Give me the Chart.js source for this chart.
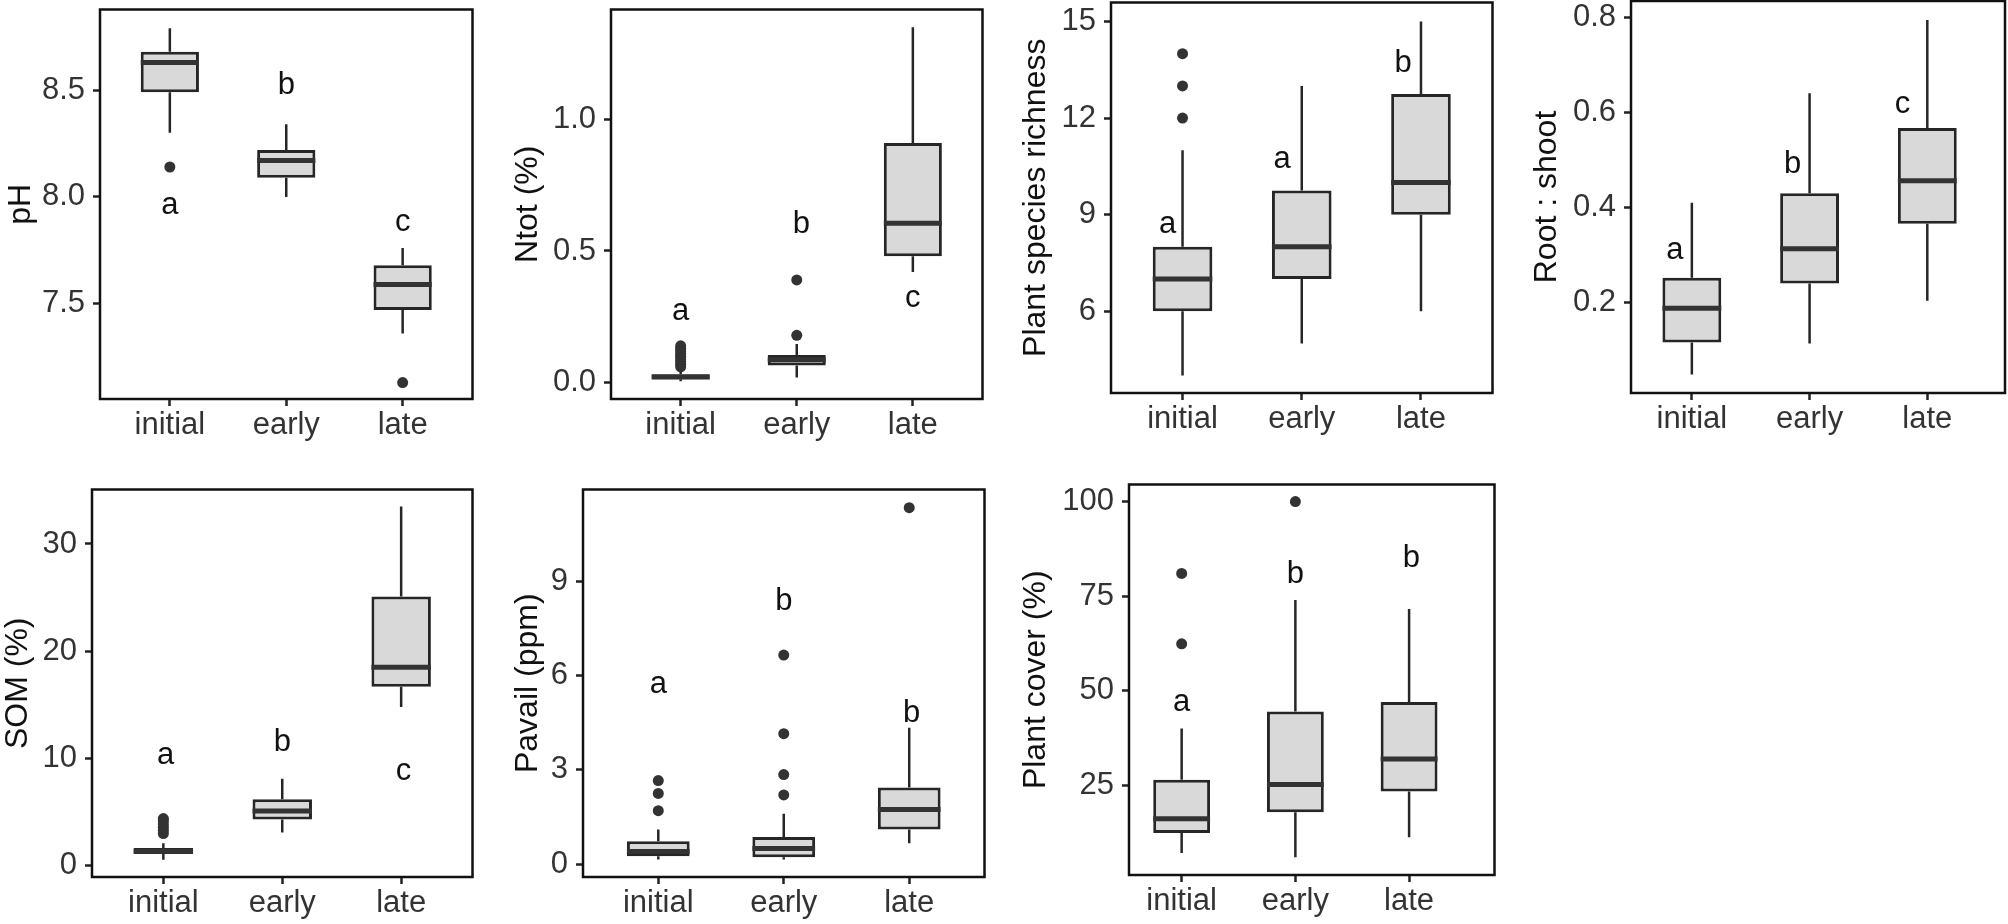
<!DOCTYPE html>
<html>
<head>
<meta charset="utf-8">
<script src="https://cdn.jsdelivr.net/npm/chart.js@4.4.1/dist/chart.umd.min.js"></script>
<style>
  html, body { margin: 0; padding: 0; background: #fff; overflow: hidden; }
  body { width: 2008px; height: 924px; position: relative; }
  .panel { position: absolute; }
</style>
</head>
<body>
<script>
// Boxplot panels: soil and vegetation by succession stage

const groups = ["initial", "early", "late"];

// pH
const phLow = [8.30, 8.00, 7.36];
const phQ1 = [8.49, 8.09, 7.47];
const phMed = [8.63, 8.17, 7.59];
const phQ3 = [8.68, 8.22, 7.68];
const phHigh = [8.79, 8.34, 7.76];
const phOutliers = [[8.14], [], [7.13]];
const phLetters = ["a", "b", "c"];
const phLetterX = [1, 2, 3];
const phLetterY = [7.96, 8.52, 7.88];
const phTicks = ["7.5", "8.0", "8.5"];

// Ntot (%)
const nLow = [0.005, 0.02, 0.42];
const nQ1 = [0.013, 0.065, 0.48];
const nMed = [0.022, 0.087, 0.605];
const nQ3 = [0.032, 0.105, 0.91];
const nHigh = [0.05, 0.147, 1.35];
const nOutliers = [[0.06, 0.07, 0.08, 0.09, 0.10, 0.11, 0.12, 0.13, 0.14], [0.18, 0.39], []];
const nLetters = ["a", "b", "c"];
const nLetterX = [1, 2.04, 3];
const nLetterY = [0.27, 0.60, 0.32];
const nTicks = ["0.0", "0.5", "1.0"];

// Plant species richness
const richLow = [4, 5, 6];
const richQ1 = [6, 7, 9];
const richMed = [7, 8, 10];
const richQ3 = [8, 9.75, 12.75];
const richHigh = [11, 13, 15];
const richOutliers = [[12, 13, 14], [], []];
const richLetters = ["a", "a", "b"];
const richLetterX = [0.875, 1.835, 2.85];
const richLetterY = [8.7, 10.7, 13.7];
const richTicks = ["6", "9", "12", "15"];

// Root : shoot
const rsLow = [0.049, 0.114, 0.204];
const rsQ1 = [0.116, 0.24, 0.366];
const rsMed = [0.188, 0.313, 0.456];
const rsQ3 = [0.252, 0.43, 0.567];
const rsHigh = [0.41, 0.64, 0.794];
const rsOutliers = [[], [], []];
const rsLetters = ["a", "b", "c"];
const rsLetterX = [0.856, 1.856, 2.79];
const rsLetterY = [0.31, 0.49, 0.617];
const rsTicks = ["0.2", "0.4", "0.6", "0.8"];

// SOM (%)
const somLow = [0.55, 3.1, 14.8];
const somQ1 = [1.1, 4.3, 16.7];
const somMed = [1.35, 5.1, 18.5];
const somQ3 = [1.65, 6.2, 25.1];
const somHigh = [2.1, 8.1, 33.5];
const somOutliers = [[3.0, 3.3, 3.6, 3.9, 4.2, 4.4], [], []];
const somLetters = ["a", "b", "c"];
const somLetterX = [1.02, 2, 3.02];
const somLetterY = [10.3, 11.5, 8.8];
const somTicks = ["0", "10", "20", "30"];

// Pavail (ppm)
const pLow = [0.15, 0.15, 0.66];
const pQ1 = [0.25, 0.22, 1.1];
const pMed = [0.4, 0.5, 1.74];
const pQ3 = [0.73, 0.86, 2.44];
const pHigh = [1.1, 1.6, 4.34];
const pOutliers = [[1.7, 2.25, 2.66], [2.2, 2.85, 4.15, 6.65], [11.34]];
const pLetters = ["a", "b", "b"];
const pLetterX = [1, 2, 3.02];
const pLetterY = [5.73, 8.36, 4.8];
const pTicks = ["0", "3", "6", "9"];

// Plant cover (%)
const covLow = [7.1, 6, 11.3];
const covQ1 = [12.4, 17.9, 23.4];
const covMed = [16.2, 25.2, 32];
const covQ3 = [26.5, 44.5, 47];
const covHigh = [40, 74, 71.6];
const covOutliers = [[62.4, 81], [100], []];
const covLetters = ["a", "b", "b"];
const covLetterX = [1, 2, 3.02];
const covLetterY = [47, 80.8, 85];
const covTicks = ["25", "50", "75", "100"];

const FONT = "Liberation Sans, Arial, sans-serif";
const FONT_SIZE = 31;
const INK = "#262626";

const panels = [
  { title: "pH", low: phLow, q1: phQ1, med: phMed, q3: phQ3, high: phHigh, out: phOutliers,
    letters: phLetters, letterX: phLetterX, letterY: phLetterY, ticks: phTicks,
    ymin: 7.053, ymax: 8.878, xmin: 0.4, xmax: 3.6,
    titleX: 20, left: 100, top: 8, right: 475, bottom: 399 },
  { title: "Ntot (%)", low: nLow, q1: nQ1, med: nMed, q3: nQ3, high: nHigh, out: nOutliers,
    letters: nLetters, letterX: nLetterX, letterY: nLetterY, ticks: nTicks,
    ymin: -0.062, ymax: 1.417, xmin: 0.4, xmax: 3.6,
    titleX: 527, left: 611, top: 8, right: 985, bottom: 399 },
  { title: "Plant species richness", low: richLow, q1: richQ1, med: richMed, q3: richQ3, high: richHigh, out: richOutliers,
    letters: richLetters, letterX: richLetterX, letterY: richLetterY, ticks: richTicks,
    ymin: 3.46, ymax: 15.59, xmin: 0.4, xmax: 3.6,
    titleX: 1035, left: 1111, top: 1, right: 1495, bottom: 393 },
  { title: "Root : shoot", low: rsLow, q1: rsQ1, med: rsMed, q3: rsQ3, high: rsHigh, out: rsOutliers,
    letters: rsLetters, letterX: rsLetterX, letterY: rsLetterY, ticks: rsTicks,
    ymin: 0.010, ymax: 0.834, xmin: 0.483, xmax: 3.66,
    titleX: 1546, left: 1631, top: 1, right: 2005, bottom: 393 },
  { title: "SOM (%)", low: somLow, q1: somQ1, med: somMed, q3: somQ3, high: somHigh, out: somOutliers,
    letters: somLetters, letterX: somLetterX, letterY: somLetterY, ticks: somTicks,
    ymin: -1.05, ymax: 35.08, xmin: 0.4, xmax: 3.6,
    titleX: 17, left: 92, top: 488, right: 475, bottom: 877 },
  { title: "Pavail (ppm)", low: pLow, q1: pQ1, med: pMed, q3: pQ3, high: pHigh, out: pOutliers,
    letters: pLetters, letterX: pLetterX, letterY: pLetterY, ticks: pTicks,
    ymin: -0.41, ymax: 11.92, xmin: 0.4, xmax: 3.6,
    titleX: 527, left: 583, top: 488, right: 987, bottom: 877 },
  { title: "Plant cover (%)", low: covLow, q1: covQ1, med: covMed, q3: covQ3, high: covHigh, out: covOutliers,
    letters: covLetters, letterX: covLetterX, letterY: covLetterY, ticks: covTicks,
    ymin: 1.32, ymax: 104.5, xmin: 0.537, xmax: 3.751,
    titleX: 1035, left: 1129, top: 483, right: 1497, bottom: 875 },
];

const BOX_HALF = 0.25; // half box width, in x units
const PAD_TOP = 4, PAD_RIGHT = 3, X_AXIS_H = 50;

// frame round the panel + significance letters
const frameAndLetters = {
  id: "frameAndLetters",
  afterDatasetsDraw(chart, args, opts) {
    const { ctx, chartArea: a, scales: { x, y } } = chart;
    ctx.save();
    ctx.strokeStyle = "#111";
    ctx.lineWidth = 2.5;
    ctx.strokeRect(a.left, a.top, a.right - a.left, a.bottom - a.top);
    ctx.font = FONT_SIZE + "px " + FONT;
    ctx.fillStyle = "#111";
    ctx.textAlign = "center";
    ctx.textBaseline = "middle";
    opts.letters.forEach((t, i) => {
      ctx.fillText(t, x.getPixelForValue(opts.letterX[i]), y.getPixelForValue(opts.letterY[i]));
    });
    ctx.restore();
  },
};

function makePanel(p) {
  const yAxisW = p.left - (p.titleX - 18);
  const w = yAxisW + (p.right - p.left) + PAD_RIGHT;
  const h = PAD_TOP + (p.bottom - p.top) + X_AXIS_H;

  const div = document.createElement("div");
  div.className = "panel";
  div.style.left = (p.titleX - 18) + "px";
  div.style.top = (p.top - PAD_TOP) + "px";
  const canvas = document.createElement("canvas");
  canvas.width = w;
  canvas.height = h;
  div.appendChild(canvas);
  document.body.appendChild(div);

  const boxes = [], whiskers = [], medians = [], outliers = [];
  groups.forEach((g, i) => {
    const x = i + 1;
    boxes.push({ x: x, y: [p.q1[i], p.q3[i]] });
    whiskers.push({ x: x, y: p.low[i] }, { x: x, y: p.q1[i] }, { x: x, y: null },
                  { x: x, y: p.q3[i] }, { x: x, y: p.high[i] }, { x: x, y: null });
    medians.push({ x: x - BOX_HALF, y: p.med[i] }, { x: x + BOX_HALF, y: p.med[i] }, { x: x, y: null });
    p.out[i].forEach(v => outliers.push({ x: x, y: v }));
  });

  const tickVals = p.ticks.map(Number);

  new Chart(canvas.getContext("2d"), {
    type: "bar",
    data: {
      datasets: [
        {
          type: "line",
          data: outliers,
          showLine: false,
          pointRadius: 5.5,
          pointBackgroundColor: "#333",
          pointBorderWidth: 0,
          order: 0,
        },
        {
          type: "line",
          data: medians,
          borderColor: "#333",
          borderWidth: 5,
          borderCapStyle: "butt",
          pointRadius: 0,
          spanGaps: false,
          order: 1,
        },
        {
          type: "bar",
          data: boxes,
          backgroundColor: "#d9d9d9",
          borderColor: INK,
          borderWidth: 3,
          borderSkipped: false,
          categoryPercentage: 1,
          barPercentage: 2 * BOX_HALF,
          order: 2,
        },
        {
          type: "line",
          data: whiskers,
          borderColor: INK,
          borderWidth: 2.5,
          pointRadius: 0,
          spanGaps: false,
          order: 3,
        },
      ],
    },
    options: {
      responsive: false,
      animation: false,
      events: [],
      layout: { padding: { top: PAD_TOP, right: PAD_RIGHT, left: 0, bottom: 0 } },
      plugins: {
        legend: { display: false },
        tooltip: { enabled: false },
        frameAndLetters: { letters: p.letters, letterX: p.letterX, letterY: p.letterY },
      },
      scales: {
        x: {
          type: "linear",
          offset: false,
          min: p.xmin,
          max: p.xmax,
          afterBuildTicks: s => { s.ticks = groups.map((g, i) => ({ value: i + 1 })); },
          afterFit: s => { s.height = X_AXIS_H; s.paddingLeft = 0; s.paddingRight = 0; },
          ticks: {
            callback: v => groups[Math.round(v) - 1],
            font: { family: FONT, size: FONT_SIZE },
            color: "#333",
            padding: 1,
            maxRotation: 0,
            autoSkip: false,
          },
          grid: { offset: false, drawOnChartArea: false, drawTicks: true, tickLength: 7, tickWidth: 2.5, tickColor: "#222" },
          border: { display: false },
        },
        y: {
          type: "linear",
          min: p.ymin,
          max: p.ymax,
          afterBuildTicks: s => { s.ticks = tickVals.map(v => ({ value: v })); },
          afterFit: s => { s.width = yAxisW; s.paddingTop = 0; s.paddingBottom = 0; },
          ticks: {
            callback: (v, i) => p.ticks[i],
            font: { family: FONT, size: FONT_SIZE },
            color: "#333",
            padding: 8,
          },
          grid: { drawOnChartArea: false, drawTicks: true, tickLength: 7, tickWidth: 2.5, tickColor: "#222" },
          border: { display: false },
          title: {
            display: true,
            text: p.title,
            font: { family: FONT, size: FONT_SIZE + 1 },
            color: "#111",
            padding: { top: 0, bottom: 0 },
          },
        },
      },
    },
    plugins: [frameAndLetters],
  });
}

panels.forEach(makePanel);
</script>
</body>
</html>
